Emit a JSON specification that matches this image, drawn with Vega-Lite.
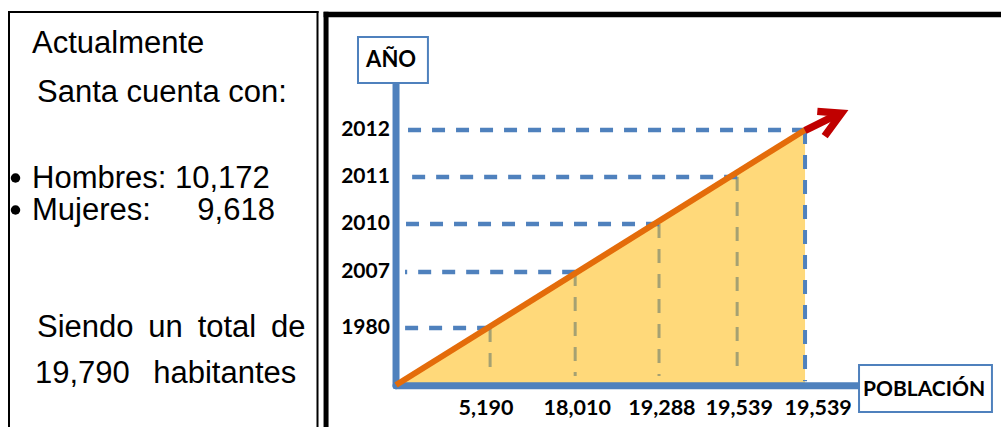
{
  "$schema": "https://vega.github.io/schema/vega-lite/v6.json",
  "padding": 0,
  "spacing": 0,
  "background": "white",
  "config": {"view": {"stroke": null}},
  "datasets": {
    "texto": [
      {"linea": "Actualmente", "sangria": 3.2, "renglon": 5.3, "vineta": false},
      {"linea": "Santa cuenta con:", "sangria": 3.7, "renglon": 10.2, "vineta": false},
      {"linea": "Hombres: 10,172", "sangria": 3.2, "renglon": 18.8, "vineta": true},
      {"linea": "Mujeres:\u2002\u2002\u20029,618", "sangria": 3.2, "renglon": 22.0, "vineta": true},
      {"linea": "Siendo\u2009 un\u2009 total\u2009 de", "sangria": 3.7, "renglon": 33.7, "vineta": false},
      {"linea": "19,790 \u2009\u00a0habitantes", "sangria": 3.5, "renglon": 38.3, "vineta": false}
    ],
    "puntos": [
      {"anio": "1980", "poblacion": "5,190", "pos_x": 23.0, "pos_y": 22.4, "etq_x": 22.0},
      {"anio": "2007", "poblacion": "18,010", "pos_x": 43.8, "pos_y": 44.3, "etq_x": 44.3},
      {"anio": "2010", "poblacion": "19,288", "pos_x": 64.3, "pos_y": 63.1, "etq_x": 65.0},
      {"anio": "2011", "poblacion": "19,539", "pos_x": 83.4, "pos_y": 81.6, "etq_x": 83.9},
      {"anio": "2012", "poblacion": "19,539", "pos_x": 100, "pos_y": 100, "etq_x": 103.2}
    ],
    "recta": [
      {"pos_x": 0, "pos_y": 0},
      {"pos_x": 100, "pos_y": 100}
    ],
    "flecha": [
      {"trazo": "asta", "orden": 1, "pos_x": 100, "pos_y": 99.8},
      {"trazo": "asta", "orden": 2, "pos_x": 108.2, "pos_y": 106.3},
      {"trazo": "punta", "orden": 1, "pos_x": 103.0, "pos_y": 107.3},
      {"trazo": "punta", "orden": 2, "pos_x": 108.9, "pos_y": 106.6},
      {"trazo": "punta", "orden": 3, "pos_x": 104.8, "pos_y": 97.6}
    ],
    "titulos": [
      {"titulo": "AÑO", "eje": "y"},
      {"titulo": "POBLACIÓN", "eje": "x"}
    ]
  },
  "hconcat": [
    {
      "width": 320,
      "height": 427,
      "layer": [
        {
          "data": {"values": [{"k": 1}]},
          "mark": {"type": "rule", "color": "black", "strokeWidth": 2},
          "encoding": {
            "x": {"datum": 0.9, "type": "quantitative", "axis": null, "scale": {"domain": [0, 32], "nice": false, "zero": false}},
            "y": {"datum": 1.1, "type": "quantitative", "axis": null, "scale": {"domain": [0, 42.7], "nice": false, "zero": false, "reverse": true}},
            "y2": {"datum": 42.7}
          }
        },
        {
          "data": {"values": [{"k": 1}]},
          "mark": {"type": "rule", "color": "black", "strokeWidth": 2},
          "encoding": {
            "x": {"datum": 0.8, "type": "quantitative", "axis": null},
            "x2": {"datum": 31.85},
            "y": {"datum": 1.2, "type": "quantitative", "axis": null}
          }
        },
        {
          "data": {"values": [{"k": 1}]},
          "mark": {"type": "rule", "color": "black", "strokeWidth": 2},
          "encoding": {
            "x": {"datum": 31.75, "type": "quantitative", "axis": null},
            "y": {"datum": 1.1, "type": "quantitative", "axis": null},
            "y2": {"datum": 42.7}
          }
        },
        {
          "data": {"name": "texto"},
          "mark": {"type": "text", "align": "left", "baseline": "alphabetic", "font": "Liberation Sans, Arial, sans-serif", "fontSize": 31, "color": "black"},
          "encoding": {
            "x": {"field": "sangria", "type": "quantitative", "axis": null},
            "y": {"field": "renglon", "type": "quantitative", "axis": null},
            "text": {"field": "linea", "type": "nominal"}
          }
        },
        {
          "data": {"name": "texto"},
          "transform": [{"filter": "datum.vineta"}],
          "mark": {"type": "point", "filled": true, "color": "black", "opacity": 1, "size": 90, "yOffset": -10},
          "encoding": {
            "x": {"datum": 1.55, "type": "quantitative", "axis": null},
            "y": {"field": "renglon", "type": "quantitative", "axis": null}
          }
        }
      ]
    },
    {
      "width": 681,
      "height": 427,
      "layer": [
        {
          "data": {"values": [{"k": 1}]},
          "mark": {"type": "rule", "color": "black", "strokeWidth": 5},
          "encoding": {
            "x": {"datum": -17.11, "type": "quantitative", "axis": null, "scale": {"domain": [-18.1, 148.4], "nice": false, "zero": false}},
            "y": {"datum": -16.47, "type": "quantitative", "axis": null, "scale": {"domain": [-16.47, 150.98], "nice": false, "zero": false}},
            "y2": {"datum": 146.4}
          }
        },
        {
          "data": {"values": [{"k": 1}]},
          "mark": {"type": "rule", "color": "black", "strokeWidth": 5.5},
          "encoding": {
            "x": {"datum": -17.7, "type": "quantitative", "axis": null},
            "x2": {"datum": 148.4},
            "y": {"datum": 145.3, "type": "quantitative", "axis": null}
          }
        },
        {
          "data": {"name": "recta"},
          "mark": {"type": "area", "color": "#FFD97A", "opacity": 1},
          "encoding": {
            "x": {"field": "pos_x", "type": "quantitative", "axis": null},
            "y": {"field": "pos_y", "type": "quantitative", "axis": null},
            "y2": {"datum": 0}
          }
        },
        {
          "data": {"name": "puntos"},
          "transform": [{"filter": "datum.anio != '2012'"}],
          "mark": {"type": "rule", "color": "#A5A172", "strokeWidth": 3, "strokeDash": [14, 11]},
          "encoding": {
            "x": {"field": "pos_x", "type": "quantitative", "axis": null},
            "y": {"field": "pos_y", "type": "quantitative", "axis": null},
            "y2": {"datum": 3.5}
          }
        },
        {
          "data": {"name": "puntos"},
          "transform": [{"filter": "datum.anio == '2012'"}],
          "mark": {"type": "rule", "color": "#4F81BD", "strokeWidth": 4, "strokeDash": [14, 11]},
          "encoding": {
            "x": {"field": "pos_x", "type": "quantitative", "axis": null},
            "y": {"field": "pos_y", "type": "quantitative", "axis": null},
            "y2": {"datum": 1.5}
          }
        },
        {
          "data": {"name": "puntos"},
          "mark": {"type": "rule", "color": "#4F81BD", "strokeWidth": 4.5, "strokeDash": [13, 11]},
          "encoding": {
            "x": {"field": "pos_x", "type": "quantitative", "axis": null},
            "x2": {"datum": 2.2},
            "y": {"field": "pos_y", "type": "quantitative", "axis": null}
          }
        },
        {
          "data": {"values": [{"k": 1}]},
          "mark": {"type": "rule", "color": "#4F81BD", "strokeWidth": 7, "strokeCap": "round"},
          "encoding": {
            "x": {"datum": 0, "type": "quantitative", "axis": null},
            "y": {"datum": -0.3, "type": "quantitative", "axis": null},
            "y2": {"datum": 118.4}
          }
        },
        {
          "data": {"values": [{"k": 1}]},
          "mark": {"type": "rule", "color": "#4F81BD", "strokeWidth": 7, "strokeCap": "round"},
          "encoding": {
            "x": {"datum": 0, "type": "quantitative", "axis": null},
            "x2": {"datum": 113.2},
            "y": {"datum": -0.3, "type": "quantitative", "axis": null}
          }
        },
        {
          "data": {"name": "recta"},
          "mark": {"type": "line", "color": "#E46C0A", "strokeWidth": 6},
          "encoding": {
            "x": {"field": "pos_x", "type": "quantitative", "axis": null},
            "y": {"field": "pos_y", "type": "quantitative", "axis": null}
          }
        },
        {
          "data": {"name": "flecha"},
          "mark": {"type": "line", "color": "#C00000", "strokeWidth": 7.5, "strokeJoin": "miter", "strokeCap": "butt"},
          "encoding": {
            "x": {"field": "pos_x", "type": "quantitative", "axis": null},
            "y": {"field": "pos_y", "type": "quantitative", "axis": null},
            "detail": {"field": "trazo", "type": "nominal"},
            "order": {"field": "orden", "type": "quantitative"}
          }
        },
        {
          "data": {"name": "titulos"},
          "transform": [{"filter": "datum.eje == 'y'"}],
          "mark": {"type": "rect", "fill": "white", "stroke": "#4F81BD", "strokeWidth": 2},
          "encoding": {
            "x": {"datum": -9.3, "type": "quantitative", "axis": null},
            "x2": {"datum": 7.8},
            "y": {"datum": 118.4, "type": "quantitative", "axis": null},
            "y2": {"datum": 136.5}
          }
        },
        {
          "data": {"name": "titulos"},
          "transform": [{"filter": "datum.eje == 'x'"}],
          "mark": {"type": "rect", "fill": "white", "stroke": "#4F81BD", "strokeWidth": 2},
          "encoding": {
            "x": {"datum": 113.2, "type": "quantitative", "axis": null},
            "x2": {"datum": 145.7},
            "y": {"datum": -10.6, "type": "quantitative", "axis": null},
            "y2": {"datum": 7.8}
          }
        },
        {
          "data": {"name": "titulos"},
          "transform": [{"filter": "datum.eje == 'y'"}],
          "mark": {"type": "text", "align": "center", "baseline": "middle", "font": "Lato, sans-serif", "fontWeight": "bold", "fontSize": 22, "color": "black"},
          "encoding": {
            "x": {"datum": -1.2, "type": "quantitative", "axis": null},
            "y": {"datum": 127.5, "type": "quantitative", "axis": null},
            "text": {"field": "titulo", "type": "nominal"}
          }
        },
        {
          "data": {"name": "titulos"},
          "transform": [{"filter": "datum.eje == 'x'"}],
          "mark": {"type": "text", "align": "center", "baseline": "middle", "font": "Lato, sans-serif", "fontWeight": "bold", "fontSize": 21, "color": "black"},
          "encoding": {
            "x": {"datum": 129.1, "type": "quantitative", "axis": null},
            "y": {"datum": -2.0, "type": "quantitative", "axis": null},
            "text": {"field": "titulo", "type": "nominal"}
          }
        },
        {
          "data": {"name": "puntos"},
          "mark": {"type": "text", "align": "right", "baseline": "middle", "font": "Lato, sans-serif", "fontWeight": "bold", "fontSize": 21, "color": "black"},
          "encoding": {
            "x": {"datum": -1.5, "type": "quantitative", "axis": null},
            "y": {"field": "pos_y", "type": "quantitative", "axis": null},
            "text": {"field": "anio", "type": "nominal"}
          }
        },
        {
          "data": {"name": "puntos"},
          "mark": {"type": "text", "align": "center", "baseline": "middle", "font": "Lato, sans-serif", "fontWeight": "bold", "fontSize": 21.5, "color": "black"},
          "encoding": {
            "x": {"field": "etq_x", "type": "quantitative", "axis": null},
            "y": {"datum": -9.4, "type": "quantitative", "axis": null},
            "text": {"field": "poblacion", "type": "nominal"}
          }
        }
      ]
    }
  ]
}
